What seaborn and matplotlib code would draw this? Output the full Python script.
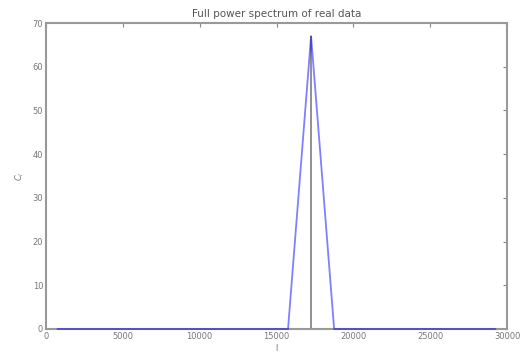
import matplotlib
matplotlib.use("Agg")
import matplotlib.pyplot as plt
import seaborn as sns
import pandas as pd

ell = [750, 2250, 3750, 5250, 6750, 8250, 9750, 11250, 12750, 14250,
       15750, 17250, 18750, 20250, 21750, 23250, 24750, 26250, 27750, 29250]
power = [0, 0, 0, 0, 0, 0, 0, 0, 0, 0,
         0, 67, 0, 0, 0, 0, 0, 0, 0, 0]
stem_x = 17250
stem_top = 67
title = "Full power spectrum of real data"
xticks = [0, 5000, 10000, 15000, 20000, 25000, 30000]
yticks = [0, 10, 20, 30, 40, 50, 60, 70]

sns.set_style("white")
plt.rcParams['font.family'] = ['DejaVu Sans']
df = pd.DataFrame({"l": ell, "C": power})

fig = plt.figure(figsize=(5.21, 3.55), dpi=100)
ax = fig.add_axes([46/521, 26/355, 461/521, 306/355])
sns.lineplot(data=df, x="l", y="C", ax=ax, color="#0000ff", alpha=0.5, linewidth=1.3,
             zorder=3, clip_on=False)
ax.vlines(stem_x, 0, stem_top, color="#888888", linewidth=1.3)
ax.set_xlim(0, 30000)
ax.set_ylim(0, 70)
ax.set_xticks(xticks)
ax.set_yticks(yticks)
ax.tick_params(direction="in", top=True, right=True, labelsize=6, length=3, pad=2,
               color="#888888", labelcolor="#777777")
for s in ax.spines.values():
    s.set_color("#999999")
    s.set_linewidth(1.5)
ax.set_title(title, fontsize=7.5, color="#555555", pad=4)
ax.set_xlabel("l", fontsize=6, color="#777777", labelpad=2)
ax.set_ylabel(r"$C_l$", fontsize=6, color="#777777", labelpad=5)
fig.savefig("out.png", dpi=100, facecolor="white")
